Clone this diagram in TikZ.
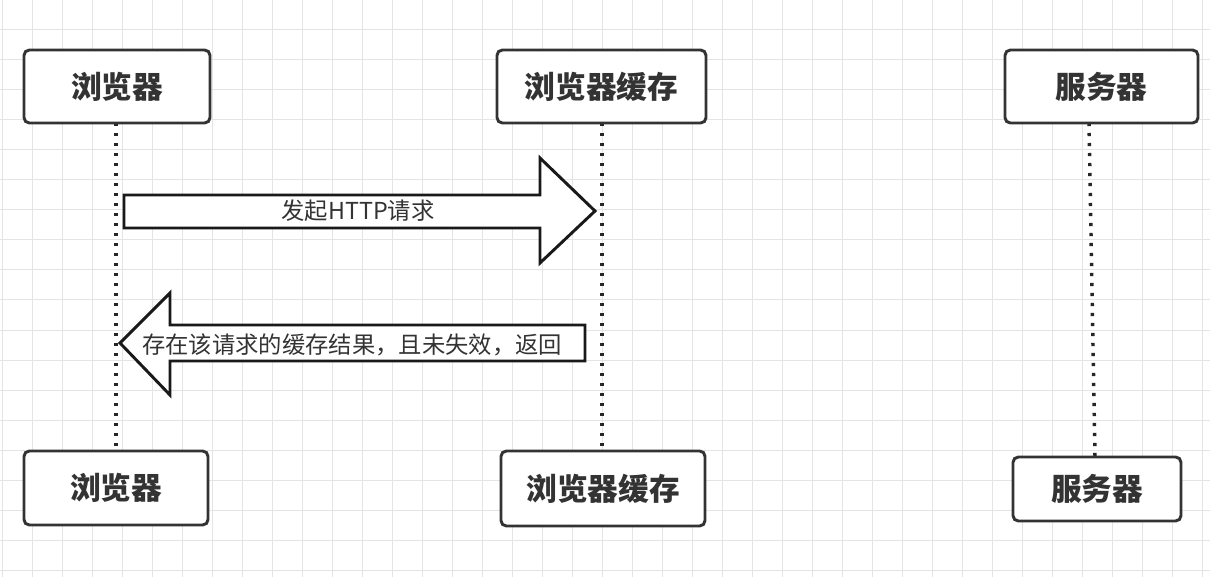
\documentclass[tikz,border=0pt]{standalone}
\usepackage{fontspec}
\setmainfont{Noto Sans CJK SC}
\usepackage{xcolor}
\usetikzlibrary{calc}

\definecolor{inkgray}{HTML}{333333}
\definecolor{gridgray}{HTML}{E4E4E4}

\begin{document}
\begin{tikzpicture}[
  x=0.75pt, y=-0.75pt,
  gridline/.style={draw=gridgray, line width=0.75pt},
  actor/.style={rectangle, draw=inkgray, line width=2.2pt, rounded corners=4pt, fill=white,
    text=inkgray, font=\fontsize{23}{27}\selectfont\bfseries, inner sep=0pt},
  lifeline/.style={draw=black!85, line width=2.6pt, dash pattern=on 2.4pt off 5.1pt},
  fatarrow/.style={draw=black!90, line width=2.2pt, fill=white, line join=miter},
  msg/.style={text=inkgray, font=\fontsize{17.5}{20}\selectfont, inner sep=0pt}
]
  % background and grid
  \fill[white] (0,0) rectangle (1210,577);
  \useasboundingbox (0,0) rectangle (1210,577);
  \foreach \x in {2,32,...,1202} \draw[gridline] (\x,0) -- (\x,577);
  \foreach \y in {0,30,...,570} \draw[gridline] (0,\y) -- (1210,\y);

  % lifelines
  \coordinate (brwtop) at (116,123);
  \coordinate (brwbot) at (116,451);
  \coordinate (cachetop) at (602,123);
  \coordinate (cachebot) at (602,451);
  \coordinate (srvtop) at (1089,123);
  \coordinate (srvbot) at (1095,457);
  \draw[lifeline] (brwtop) -- (brwbot);
  \draw[lifeline] (cachetop) -- (cachebot);
  \draw[lifeline] (srvtop) -- (srvbot);

  % actors, top row
  \node[actor, minimum width=139.5pt, minimum height=54.75pt] (brw1) at (117,86.5) {浏览器};
  \node[actor, minimum width=156.75pt, minimum height=54.75pt] (cache1) at (601.5,86.5) {浏览器缓存};
  \node[actor, minimum width=144.75pt, minimum height=54.75pt] (srv1) at (1101.5,86.5) {服务器};

  % actors, bottom row
  \node[actor, minimum width=138pt, minimum height=55.5pt] (brw2) at (116,488) {浏览器};
  \node[actor, minimum width=153pt, minimum height=56.25pt] (cache2) at (603,488.5) {浏览器缓存};
  \node[actor, minimum width=126pt, minimum height=48pt] (srv2) at (1097,489) {服务器};

  % request
  \draw[fatarrow] (124,195) -- (540,195) -- (540,158) -- (595,211)
    -- (540,263) -- (540,228) -- (124,228) -- cycle;
  \node[msg] (req) at (358,211) {发起HTTP请求};

  % cached response
  \draw[fatarrow] (585,325) -- (170,325) -- (170,293) -- (120,343)
    -- (170,395) -- (170,361) -- (585,361) -- cycle;
  \node[msg] (resp) at (352,345) {存在该请求的缓存结果，且未失效，返回};
\end{tikzpicture}
\end{document}
